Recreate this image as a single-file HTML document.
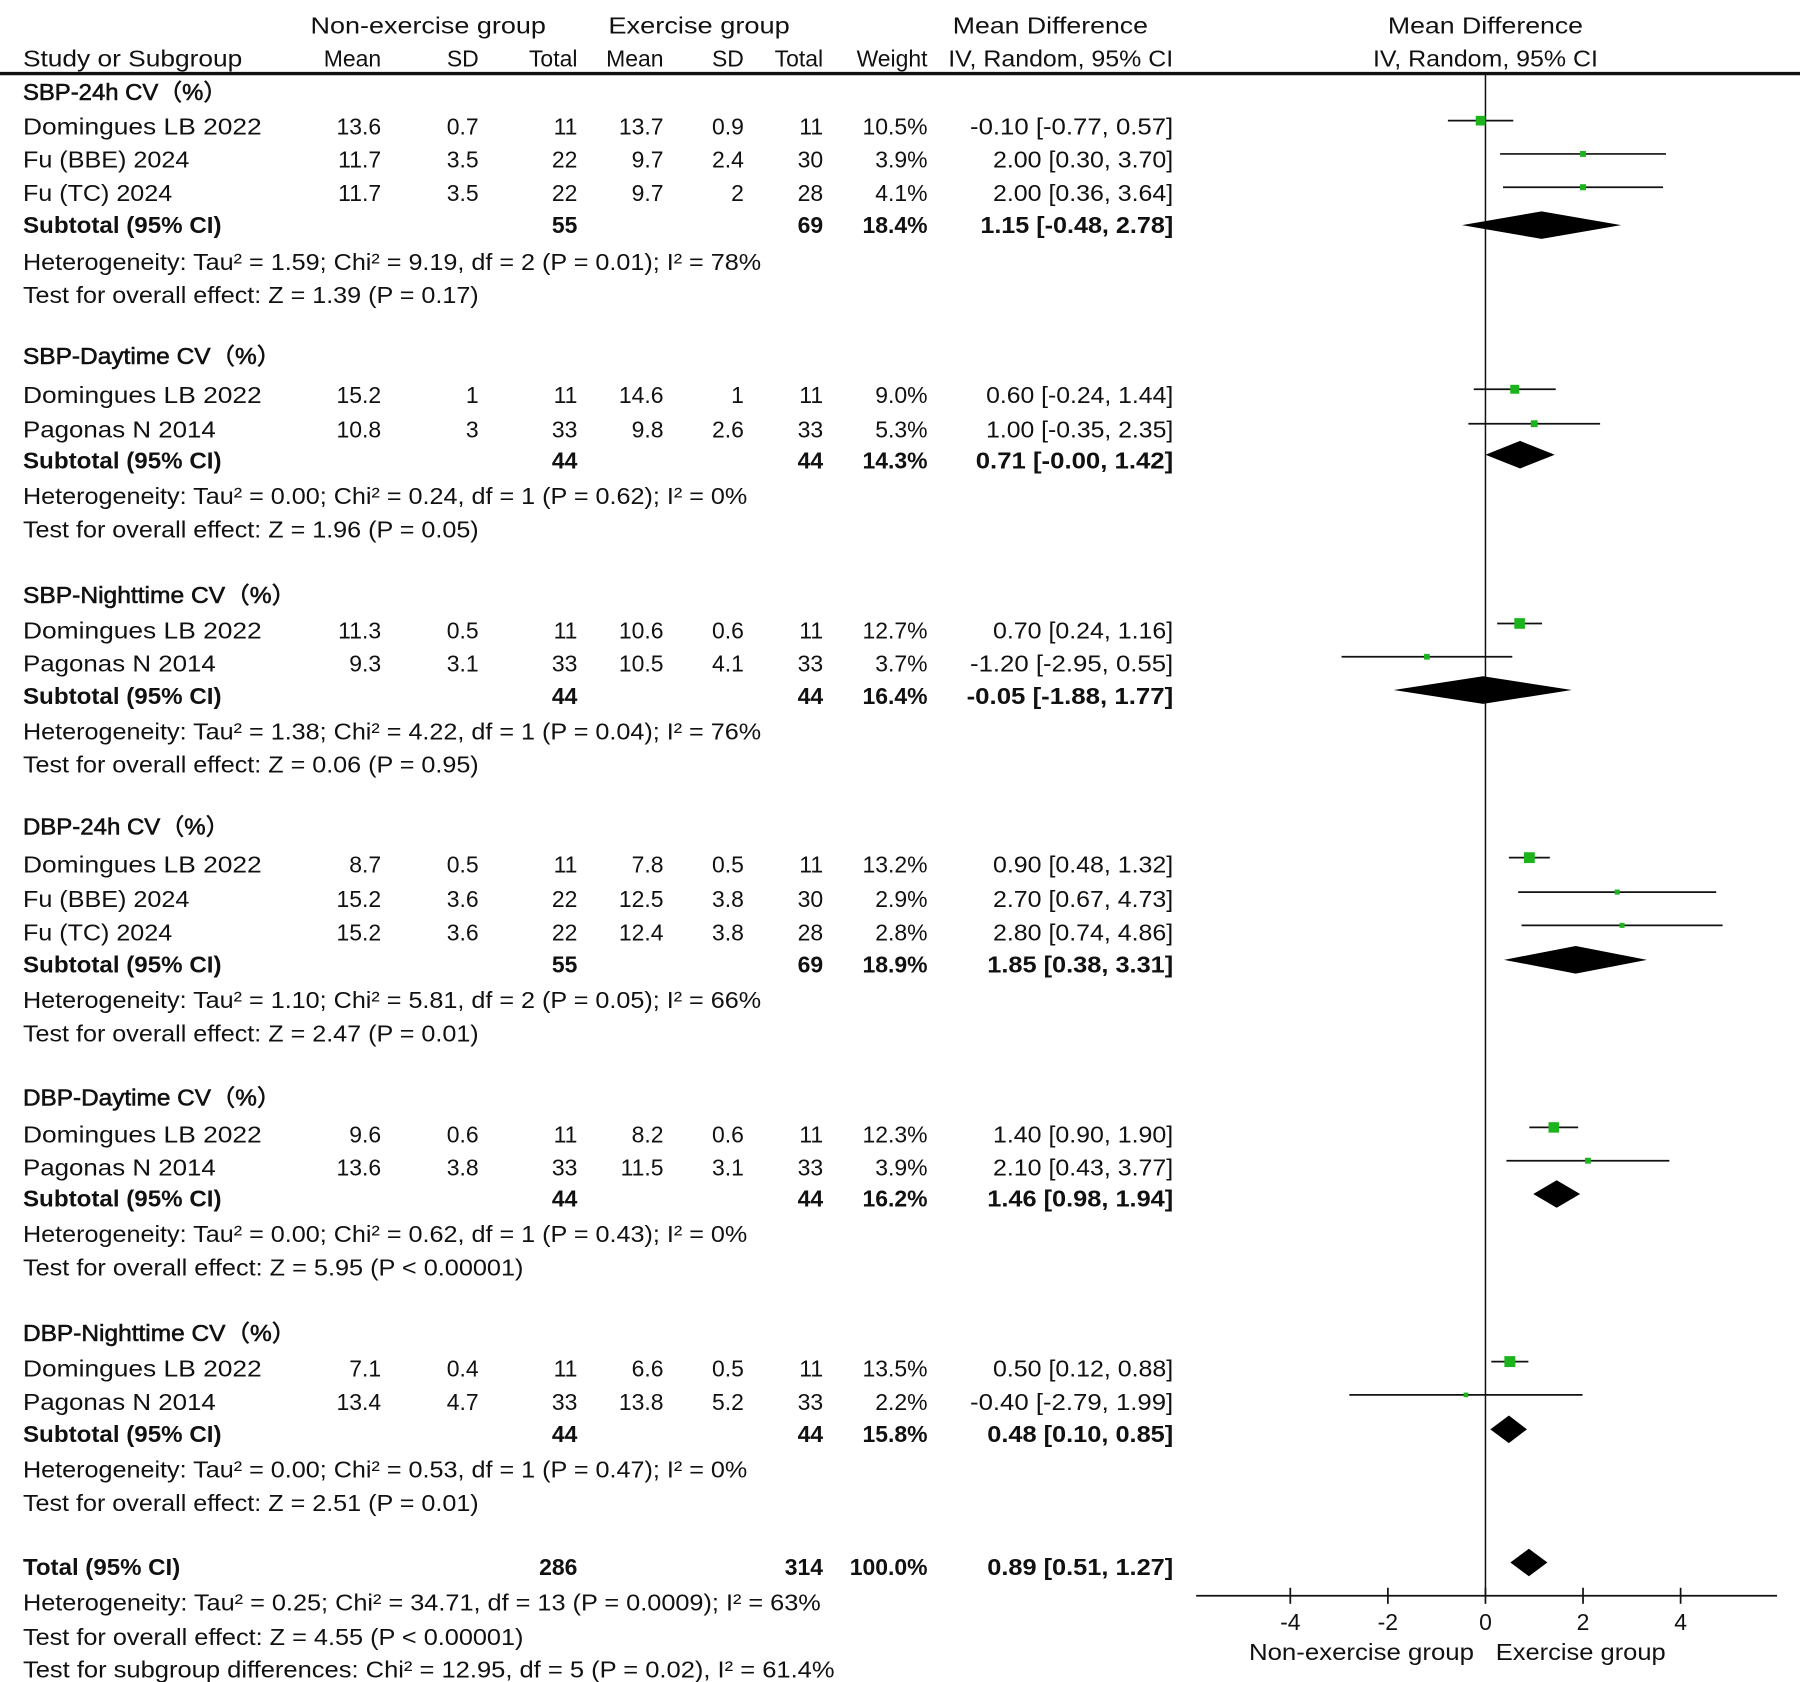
<!DOCTYPE html>
<html><head><meta charset="utf-8"><style>
html,body{margin:0;padding:0;background:#fff;}
svg{display:block}
text{font-family:"Liberation Sans","Noto Sans CJK SC",sans-serif;font-size:20px;fill:#111}
.b{font-weight:bold}
.s{stroke:#111;stroke-width:0.5}
.r{text-anchor:end}
.c{text-anchor:middle}
</style></head><body>
<svg id="g" width="1800" height="1682" viewBox="0 0 1568 1465" xmlns="http://www.w3.org/2000/svg">
<!-- header -->
<text class="c" x="373" y="29" textLength="205" lengthAdjust="spacingAndGlyphs">Non-exercise group</text>
<text class="c" x="609" y="29" textLength="158" lengthAdjust="spacingAndGlyphs">Exercise group</text>
<text class="c" x="915" y="29" textLength="170" lengthAdjust="spacingAndGlyphs">Mean Difference</text>
<text class="c" x="1294" y="29" textLength="170" lengthAdjust="spacingAndGlyphs">Mean Difference</text>
<text x="20" y="58" textLength="191" lengthAdjust="spacingAndGlyphs">Study or Subgroup</text>
<text class="r" x="332" y="58">Mean</text>
<text class="r" x="417" y="58">SD</text>
<text class="r" x="503" y="58">Total</text>
<text class="r" x="578" y="58">Mean</text>
<text class="r" x="648" y="58">SD</text>
<text class="r" x="717" y="58">Total</text>
<text class="r" x="808" y="58">Weight</text>
<text class="r" x="1022" y="58" textLength="196" lengthAdjust="spacingAndGlyphs">IV, Random, 95% CI</text>
<text class="c" x="1294" y="58" textLength="196" lengthAdjust="spacingAndGlyphs">IV, Random, 95% CI</text>
<line x1="0" y1="64" x2="1568" y2="64" stroke="#111" stroke-width="3"/>

<!-- section 1 -->
<text class="s" x="20" y="87" textLength="178" lengthAdjust="spacingAndGlyphs">SBP-24h CV（%）</text>
<text x="20" y="117" textLength="208" lengthAdjust="spacingAndGlyphs">Domingues LB 2022</text><text class="r" x="332" y="117">13.6</text><text class="r" x="417" y="117">0.7</text><text class="r" x="503" y="117">11</text><text class="r" x="578" y="117">13.7</text><text class="r" x="648" y="117">0.9</text><text class="r" x="717" y="117">11</text><text class="r" x="808" y="117">10.5%</text><text class="r" x="1022" y="117" textLength="177" lengthAdjust="spacingAndGlyphs">-0.10 [-0.77, 0.57]</text>
<text x="20" y="146" textLength="145" lengthAdjust="spacingAndGlyphs">Fu (BBE) 2024</text><text class="r" x="332" y="146">11.7</text><text class="r" x="417" y="146">3.5</text><text class="r" x="503" y="146">22</text><text class="r" x="578" y="146">9.7</text><text class="r" x="648" y="146">2.4</text><text class="r" x="717" y="146">30</text><text class="r" x="808" y="146">3.9%</text><text class="r" x="1022" y="146" textLength="157" lengthAdjust="spacingAndGlyphs">2.00 [0.30, 3.70]</text>
<text x="20" y="175" textLength="130" lengthAdjust="spacingAndGlyphs">Fu (TC) 2024</text><text class="r" x="332" y="175">11.7</text><text class="r" x="417" y="175">3.5</text><text class="r" x="503" y="175">22</text><text class="r" x="578" y="175">9.7</text><text class="r" x="648" y="175">2</text><text class="r" x="717" y="175">28</text><text class="r" x="808" y="175">4.1%</text><text class="r" x="1022" y="175" textLength="157" lengthAdjust="spacingAndGlyphs">2.00 [0.36, 3.64]</text>
<text class="b" x="20" y="203" textLength="173" lengthAdjust="spacingAndGlyphs">Subtotal (95% CI)</text><text class="b r" x="503" y="203">55</text><text class="b r" x="717" y="203">69</text><text class="b r" x="808" y="203">18.4%</text><text class="b r" x="1022" y="203" textLength="168" lengthAdjust="spacingAndGlyphs">1.15 [-0.48, 2.78]</text>
<text x="20" y="235" textLength="643" lengthAdjust="spacingAndGlyphs">Heterogeneity: Tau² = 1.59; Chi² = 9.19, df = 2 (P = 0.01); I² = 78%</text>
<text x="20" y="264" textLength="397" lengthAdjust="spacingAndGlyphs">Test for overall effect: Z = 1.39 (P = 0.17)</text>

<!-- section 2 -->
<text class="s" x="20" y="317" textLength="225" lengthAdjust="spacingAndGlyphs">SBP-Daytime CV（%）</text>
<text x="20" y="351" textLength="208" lengthAdjust="spacingAndGlyphs">Domingues LB 2022</text><text class="r" x="332" y="351">15.2</text><text class="r" x="417" y="351">1</text><text class="r" x="503" y="351">11</text><text class="r" x="578" y="351">14.6</text><text class="r" x="648" y="351">1</text><text class="r" x="717" y="351">11</text><text class="r" x="808" y="351">9.0%</text><text class="r" x="1022" y="351" textLength="163" lengthAdjust="spacingAndGlyphs">0.60 [-0.24, 1.44]</text>
<text x="20" y="381" textLength="168" lengthAdjust="spacingAndGlyphs">Pagonas N 2014</text><text class="r" x="332" y="381">10.8</text><text class="r" x="417" y="381">3</text><text class="r" x="503" y="381">33</text><text class="r" x="578" y="381">9.8</text><text class="r" x="648" y="381">2.6</text><text class="r" x="717" y="381">33</text><text class="r" x="808" y="381">5.3%</text><text class="r" x="1022" y="381" textLength="163" lengthAdjust="spacingAndGlyphs">1.00 [-0.35, 2.35]</text>
<text class="b" x="20" y="408" textLength="173" lengthAdjust="spacingAndGlyphs">Subtotal (95% CI)</text><text class="b r" x="503" y="408">44</text><text class="b r" x="717" y="408">44</text><text class="b r" x="808" y="408">14.3%</text><text class="b r" x="1022" y="408" textLength="172" lengthAdjust="spacingAndGlyphs">0.71 [-0.00, 1.42]</text>
<text x="20" y="439" textLength="631" lengthAdjust="spacingAndGlyphs">Heterogeneity: Tau² = 0.00; Chi² = 0.24, df = 1 (P = 0.62); I² = 0%</text>
<text x="20" y="468" textLength="397" lengthAdjust="spacingAndGlyphs">Test for overall effect: Z = 1.96 (P = 0.05)</text>

<!-- section 3 -->
<text class="s" x="20" y="525" textLength="238" lengthAdjust="spacingAndGlyphs">SBP-Nighttime CV（%）</text>
<text x="20" y="556" textLength="208" lengthAdjust="spacingAndGlyphs">Domingues LB 2022</text><text class="r" x="332" y="556">11.3</text><text class="r" x="417" y="556">0.5</text><text class="r" x="503" y="556">11</text><text class="r" x="578" y="556">10.6</text><text class="r" x="648" y="556">0.6</text><text class="r" x="717" y="556">11</text><text class="r" x="808" y="556">12.7%</text><text class="r" x="1022" y="556" textLength="157" lengthAdjust="spacingAndGlyphs">0.70 [0.24, 1.16]</text>
<text x="20" y="585" textLength="168" lengthAdjust="spacingAndGlyphs">Pagonas N 2014</text><text class="r" x="332" y="585">9.3</text><text class="r" x="417" y="585">3.1</text><text class="r" x="503" y="585">33</text><text class="r" x="578" y="585">10.5</text><text class="r" x="648" y="585">4.1</text><text class="r" x="717" y="585">33</text><text class="r" x="808" y="585">3.7%</text><text class="r" x="1022" y="585" textLength="177" lengthAdjust="spacingAndGlyphs">-1.20 [-2.95, 0.55]</text>
<text class="b" x="20" y="613" textLength="173" lengthAdjust="spacingAndGlyphs">Subtotal (95% CI)</text><text class="b r" x="503" y="613">44</text><text class="b r" x="717" y="613">44</text><text class="b r" x="808" y="613">16.4%</text><text class="b r" x="1022" y="613" textLength="180" lengthAdjust="spacingAndGlyphs">-0.05 [-1.88, 1.77]</text>
<text x="20" y="644" textLength="643" lengthAdjust="spacingAndGlyphs">Heterogeneity: Tau² = 1.38; Chi² = 4.22, df = 1 (P = 0.04); I² = 76%</text>
<text x="20" y="673" textLength="397" lengthAdjust="spacingAndGlyphs">Test for overall effect: Z = 0.06 (P = 0.95)</text>

<!-- section 4 -->
<text class="s" x="20" y="727" textLength="180" lengthAdjust="spacingAndGlyphs">DBP-24h CV（%）</text>
<text x="20" y="760" textLength="208" lengthAdjust="spacingAndGlyphs">Domingues LB 2022</text><text class="r" x="332" y="760">8.7</text><text class="r" x="417" y="760">0.5</text><text class="r" x="503" y="760">11</text><text class="r" x="578" y="760">7.8</text><text class="r" x="648" y="760">0.5</text><text class="r" x="717" y="760">11</text><text class="r" x="808" y="760">13.2%</text><text class="r" x="1022" y="760" textLength="157" lengthAdjust="spacingAndGlyphs">0.90 [0.48, 1.32]</text>
<text x="20" y="790" textLength="145" lengthAdjust="spacingAndGlyphs">Fu (BBE) 2024</text><text class="r" x="332" y="790">15.2</text><text class="r" x="417" y="790">3.6</text><text class="r" x="503" y="790">22</text><text class="r" x="578" y="790">12.5</text><text class="r" x="648" y="790">3.8</text><text class="r" x="717" y="790">30</text><text class="r" x="808" y="790">2.9%</text><text class="r" x="1022" y="790" textLength="157" lengthAdjust="spacingAndGlyphs">2.70 [0.67, 4.73]</text>
<text x="20" y="819" textLength="130" lengthAdjust="spacingAndGlyphs">Fu (TC) 2024</text><text class="r" x="332" y="819">15.2</text><text class="r" x="417" y="819">3.6</text><text class="r" x="503" y="819">22</text><text class="r" x="578" y="819">12.4</text><text class="r" x="648" y="819">3.8</text><text class="r" x="717" y="819">28</text><text class="r" x="808" y="819">2.8%</text><text class="r" x="1022" y="819" textLength="157" lengthAdjust="spacingAndGlyphs">2.80 [0.74, 4.86]</text>
<text class="b" x="20" y="847" textLength="173" lengthAdjust="spacingAndGlyphs">Subtotal (95% CI)</text><text class="b r" x="503" y="847">55</text><text class="b r" x="717" y="847">69</text><text class="b r" x="808" y="847">18.9%</text><text class="b r" x="1022" y="847" textLength="162" lengthAdjust="spacingAndGlyphs">1.85 [0.38, 3.31]</text>
<text x="20" y="878" textLength="643" lengthAdjust="spacingAndGlyphs">Heterogeneity: Tau² = 1.10; Chi² = 5.81, df = 2 (P = 0.05); I² = 66%</text>
<text x="20" y="907" textLength="397" lengthAdjust="spacingAndGlyphs">Test for overall effect: Z = 2.47 (P = 0.01)</text>

<!-- section 5 -->
<text class="s" x="20" y="963" textLength="225" lengthAdjust="spacingAndGlyphs">DBP-Daytime CV（%）</text>
<text x="20" y="995" textLength="208" lengthAdjust="spacingAndGlyphs">Domingues LB 2022</text><text class="r" x="332" y="995">9.6</text><text class="r" x="417" y="995">0.6</text><text class="r" x="503" y="995">11</text><text class="r" x="578" y="995">8.2</text><text class="r" x="648" y="995">0.6</text><text class="r" x="717" y="995">11</text><text class="r" x="808" y="995">12.3%</text><text class="r" x="1022" y="995" textLength="157" lengthAdjust="spacingAndGlyphs">1.40 [0.90, 1.90]</text>
<text x="20" y="1024" textLength="168" lengthAdjust="spacingAndGlyphs">Pagonas N 2014</text><text class="r" x="332" y="1024">13.6</text><text class="r" x="417" y="1024">3.8</text><text class="r" x="503" y="1024">33</text><text class="r" x="578" y="1024">11.5</text><text class="r" x="648" y="1024">3.1</text><text class="r" x="717" y="1024">33</text><text class="r" x="808" y="1024">3.9%</text><text class="r" x="1022" y="1024" textLength="157" lengthAdjust="spacingAndGlyphs">2.10 [0.43, 3.77]</text>
<text class="b" x="20" y="1051" textLength="173" lengthAdjust="spacingAndGlyphs">Subtotal (95% CI)</text><text class="b r" x="503" y="1051">44</text><text class="b r" x="717" y="1051">44</text><text class="b r" x="808" y="1051">16.2%</text><text class="b r" x="1022" y="1051" textLength="162" lengthAdjust="spacingAndGlyphs">1.46 [0.98, 1.94]</text>
<text x="20" y="1082" textLength="631" lengthAdjust="spacingAndGlyphs">Heterogeneity: Tau² = 0.00; Chi² = 0.62, df = 1 (P = 0.43); I² = 0%</text>
<text x="20" y="1111" textLength="436" lengthAdjust="spacingAndGlyphs">Test for overall effect: Z = 5.95 (P &lt; 0.00001)</text>

<!-- section 6 -->
<text class="s" x="20" y="1168" textLength="238" lengthAdjust="spacingAndGlyphs">DBP-Nighttime CV（%）</text>
<text x="20" y="1199" textLength="208" lengthAdjust="spacingAndGlyphs">Domingues LB 2022</text><text class="r" x="332" y="1199">7.1</text><text class="r" x="417" y="1199">0.4</text><text class="r" x="503" y="1199">11</text><text class="r" x="578" y="1199">6.6</text><text class="r" x="648" y="1199">0.5</text><text class="r" x="717" y="1199">11</text><text class="r" x="808" y="1199">13.5%</text><text class="r" x="1022" y="1199" textLength="157" lengthAdjust="spacingAndGlyphs">0.50 [0.12, 0.88]</text>
<text x="20" y="1228" textLength="168" lengthAdjust="spacingAndGlyphs">Pagonas N 2014</text><text class="r" x="332" y="1228">13.4</text><text class="r" x="417" y="1228">4.7</text><text class="r" x="503" y="1228">33</text><text class="r" x="578" y="1228">13.8</text><text class="r" x="648" y="1228">5.2</text><text class="r" x="717" y="1228">33</text><text class="r" x="808" y="1228">2.2%</text><text class="r" x="1022" y="1228" textLength="177" lengthAdjust="spacingAndGlyphs">-0.40 [-2.79, 1.99]</text>
<text class="b" x="20" y="1256" textLength="173" lengthAdjust="spacingAndGlyphs">Subtotal (95% CI)</text><text class="b r" x="503" y="1256">44</text><text class="b r" x="717" y="1256">44</text><text class="b r" x="808" y="1256">15.8%</text><text class="b r" x="1022" y="1256" textLength="162" lengthAdjust="spacingAndGlyphs">0.48 [0.10, 0.85]</text>
<text x="20" y="1287" textLength="631" lengthAdjust="spacingAndGlyphs">Heterogeneity: Tau² = 0.00; Chi² = 0.53, df = 1 (P = 0.47); I² = 0%</text>
<text x="20" y="1316" textLength="397" lengthAdjust="spacingAndGlyphs">Test for overall effect: Z = 2.51 (P = 0.01)</text>

<!-- total -->
<text class="b" x="20" y="1372" textLength="137" lengthAdjust="spacingAndGlyphs">Total (95% CI)</text><text class="b r" x="503" y="1372">286</text><text class="b r" x="717" y="1372">314</text><text class="b r" x="808" y="1372">100.0%</text><text class="b r" x="1022" y="1372" textLength="162" lengthAdjust="spacingAndGlyphs">0.89 [0.51, 1.27]</text>
<text x="20" y="1403" textLength="695" lengthAdjust="spacingAndGlyphs">Heterogeneity: Tau² = 0.25; Chi² = 34.71, df = 13 (P = 0.0009); I² = 63%</text>
<text x="20" y="1433" textLength="436" lengthAdjust="spacingAndGlyphs">Test for overall effect: Z = 4.55 (P &lt; 0.00001)</text>
<text x="20" y="1461" textLength="707" lengthAdjust="spacingAndGlyphs">Test for subgroup differences: Chi² = 12.95, df = 5 (P = 0.02), I² = 61.4%</text>

<!-- axis -->
<line x1="1294" y1="64" x2="1294" y2="1390" stroke="#111" stroke-width="1.3"/>
<line x1="1042" y1="1390" x2="1548" y2="1390" stroke="#111" stroke-width="1.5"/>
<g stroke="#111" stroke-width="1.5">
<line x1="1124" y1="1383" x2="1124" y2="1397"/><line x1="1209" y1="1383" x2="1209" y2="1397"/><line x1="1294" y1="1383" x2="1294" y2="1397"/><line x1="1379" y1="1383" x2="1379" y2="1397"/><line x1="1464" y1="1383" x2="1464" y2="1397"/>
</g>
<text class="c" x="1124" y="1420">-4</text><text class="c" x="1209" y="1420">-2</text><text class="c" x="1294" y="1420">0</text><text class="c" x="1379" y="1420">2</text><text class="c" x="1464" y="1420">4</text>
<text class="c" x="1186" y="1446" textLength="196" lengthAdjust="spacingAndGlyphs">Non-exercise group</text>
<text class="c" x="1377" y="1446" textLength="148" lengthAdjust="spacingAndGlyphs">Exercise group</text>
<g id="plot"></g>
</svg>
<script>
(function(){
var P=document.getElementById('plot'),ns='http://www.w3.org/2000/svg';
function X(v){return 1294+42.5*v;}
function el(t,a){var e=document.createElementNS(ns,t);for(var k in a)e.setAttribute(k,a[k]);P.appendChild(e);}
var st=[[105,-0.10,-0.77,0.57,10.5],[134,2,0.30,3.70,3.9],[163,2,0.36,3.64,4.1],
[339,0.6,-0.24,1.44,9.0],[369,1,-0.35,2.35,5.3],
[543,0.7,0.24,1.16,12.7],[572,-1.2,-2.95,0.55,3.7],
[747,0.9,0.48,1.32,13.2],[777,2.7,0.67,4.73,2.9],[806,2.8,0.74,4.86,2.8],
[982,1.4,0.90,1.90,12.3],[1011,2.1,0.43,3.77,3.9],
[1186,0.5,0.12,0.88,13.5],[1215,-0.4,-2.79,1.99,2.2]];
st.forEach(function(s){
 el('line',{x1:X(s[2]),x2:X(s[3]),y1:s[0],y2:s[0],stroke:'#111','stroke-width':1.5});
 var h=Math.max(4,Math.sqrt(s[4])*2.6);
 el('rect',{x:X(s[1])-h/2,y:s[0]-h/2,width:h,height:h,fill:'#1db31d'});
});
var d=[[196,1.15,-0.48,2.78],[396,0.71,0,1.42],[601,-0.05,-1.88,1.77],[836,1.85,0.38,3.31],[1040,1.46,0.98,1.94],[1245,0.48,0.10,0.85],[1361,0.89,0.51,1.27]];
d.forEach(function(s){
 var y=s[0],h=12;
 el('polygon',{points:X(s[2])+','+y+' '+X(s[1])+','+(y-h)+' '+X(s[3])+','+y+' '+X(s[1])+','+(y+h),fill:'#000'});
});
})();
</script>
</body></html>
